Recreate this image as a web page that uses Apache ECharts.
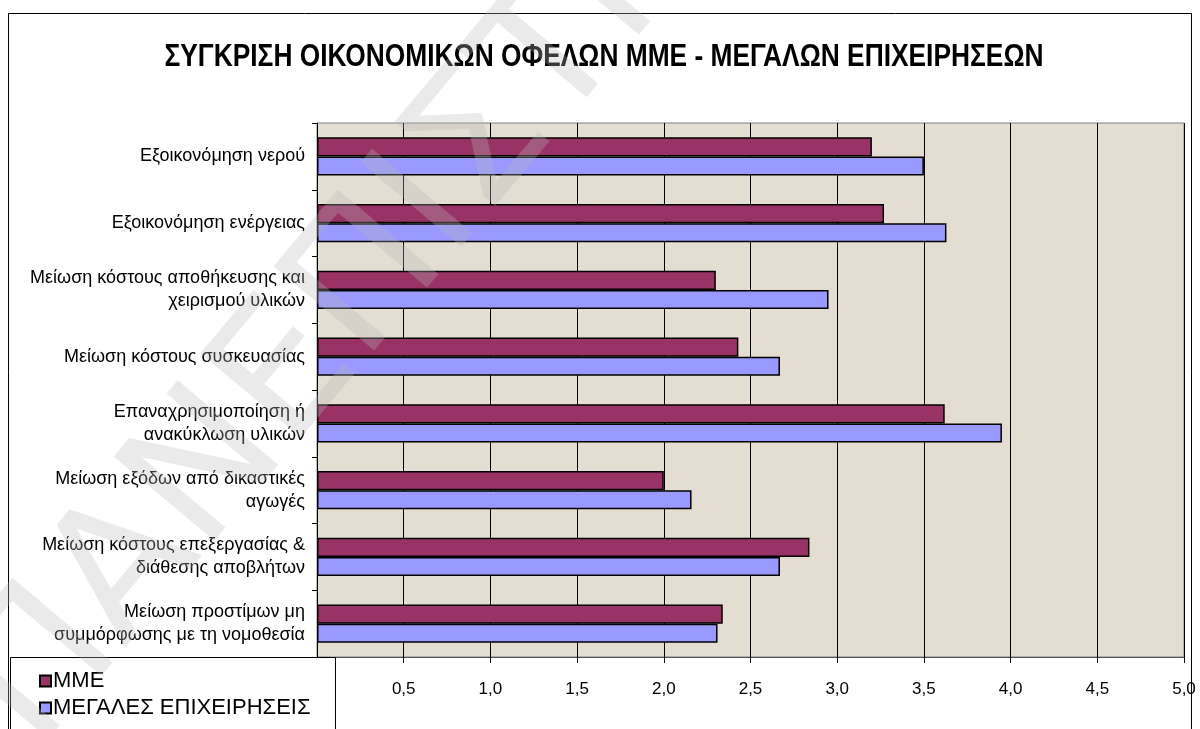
<!DOCTYPE html>
<html>
<head>
<meta charset="utf-8">
<script src="https://cdn.jsdelivr.net/npm/echarts@6/dist/echarts.min.js"></script>
<style>
  html, body { margin: 0; padding: 0; background: #fff; }
  #chart { width: 1200px; height: 729px; }
</style>
</head>
<body>
<div id="chart"></div>
<script>
const titleText = 'ΣΥΓΚΡΙΣΗ ΟΙΚΟΝΟΜΙΚΩΝ ΟΦΕΛΩΝ ΜΜΕ - ΜΕΓΑΛΩΝ ΕΠΙΧΕΙΡΗΣΕΩΝ';
const categories = [
  'Εξοικονόμηση νερού',
  'Εξοικονόμηση ενέργειας',
  'Μείωση κόστους αποθήκευσης και\nχειρισμού υλικών',
  'Μείωση κόστους συσκευασίας',
  'Επαναχρησιμοποίηση ή\nανακύκλωση υλικών',
  'Μείωση εξόδων από δικαστικές\nαγωγές',
  'Μείωση κόστους επεξεργασίας &\nδιάθεσης αποβλήτων',
  'Μείωση προστίμων μη\nσυμμόρφωσης με τη νομοθεσία'
];
const smeValues = [3.20, 3.27, 2.30, 2.43, 3.62, 2.00, 2.84, 2.34];
const largeValues = [3.50, 3.63, 2.95, 2.67, 3.95, 2.16, 2.67, 2.31];
const seriesNames = ['ΜΜΕ', 'ΜΕΓΑΛΕΣ ΕΠΙΧΕΙΡΗΣΕΙΣ'];

const FONT = '"Liberation Sans", Arial, sans-serif';
const chart = echarts.init(document.getElementById('chart'), null, { renderer: 'canvas' });

chart.setOption({
  backgroundColor: '#fff',
  animation: false,
  grid: {
    left: 317, right: 16, top: 123, bottom: 72,
    show: true, backgroundColor: '#E3DDD2', borderColor: '#808080', borderWidth: 1
  },
  xAxis: {
    type: 'value', min: 0, max: 5, interval: 0.5,
    axisLine: { show: true, lineStyle: { color: '#555', width: 1 } },
    axisTick: { show: true, length: 6, lineStyle: { color: '#000' } },
    axisLabel: {
      color: '#000', fontFamily: FONT, fontSize: 17, margin: 24,
      formatter: v => (v === 0 ? '0' : v.toFixed(1).replace('.', ','))
    },
    splitLine: { show: true, lineStyle: { color: '#000', width: 1 } }
  },
  yAxis: {
    type: 'category', data: categories, inverse: true,
    axisLine: { show: true, lineStyle: { color: '#000', width: 1 } },
    axisTick: { show: true, inside: false, length: 5, lineStyle: { color: '#000' } },
    axisLabel: { color: '#000', fontFamily: FONT, fontSize: 18, lineHeight: 23, margin: 12, align: 'right' },
    splitLine: { show: false }
  },
  legend: {
    orient: 'vertical', left: 34, top: 665, z: 20,
    itemWidth: 11, itemHeight: 11, itemGap: 5,
    icon: 'rect',
    textStyle: { fontFamily: FONT, fontSize: 22, color: '#000', padding: [0, 0, 0, -3] },
    data: seriesNames
  },
  graphic: [
    { type: 'rect', z: -10, silent: true,
      shape: { x: 8.5, y: 13.5, width: 1183, height: 740 },
      style: { fill: 'none', stroke: '#000', lineWidth: 1 } },
    // condensed bold title
    { type: 'text', z: 5, silent: true,
      x: 604, y: 57, scaleX: 0.823,
      style: { text: titleText, font: 'bold 32px "Liberation Sans", Arial, sans-serif',
        fill: '#000', textAlign: 'center', textVerticalAlign: 'middle' } },
    { type: 'rect', z: 15, silent: true,
      shape: { x: 10.5, y: 657.5, width: 325, height: 80 },
      style: { fill: '#fff', stroke: '#000', lineWidth: 1 } },
    { type: 'text', z: 100, silent: true,
      x: 70, y: 780, rotation: 50 * Math.PI / 180,
      style: { text: 'ΠΑΝΕΠΙΣΤΗΜΙΟ', font: '180px "DejaVu Sans", sans-serif',
        fill: 'rgba(185,185,185,0.3)', textVerticalAlign: 'bottom' } }
  ],
  series: [
    {
      name: seriesNames[0], type: 'bar', data: smeValues,
      barGap: '0%', barCategoryGap: '43%',
      itemStyle: { color: '#993366', borderColor: '#000', borderWidth: 1.5 }
    },
    {
      name: seriesNames[1], type: 'bar', data: largeValues,
      barGap: '0%', barCategoryGap: '43%',
      itemStyle: { color: '#9999FF', borderColor: '#000', borderWidth: 1.5 }
    }
  ]
});
</script>
</body>
</html>
